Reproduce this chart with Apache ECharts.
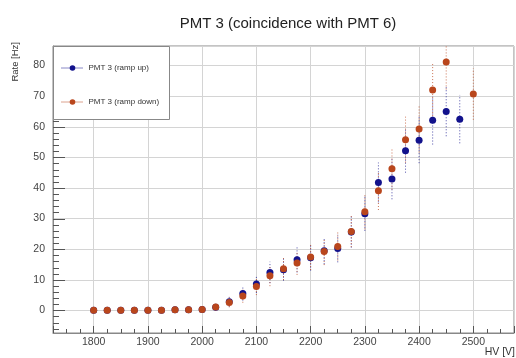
<!DOCTYPE html>
<html>
<head>
<meta charset="utf-8">
<script src="https://cdn.jsdelivr.net/npm/echarts@6/dist/echarts.min.js"></script>
<style>html,body{margin:0;padding:0;background:#fff}#c{width:516px;height:358px}</style>
</head>
<body>
<div id="c"></div>
<script>
const hv = [1800,1825,1850,1875,1900,1925,1950,1975,2000,2025,2050,2075,2100,2125,2150,2175,2200,2225,2250,2275,2300,2325,2350,2375,2400,2425,2450,2475,2500];
const rampUp = [0,0,0,0,0,0,0.2,0.2,0.3,1.0,2.8,5.5,8.6,12.4,13.3,16.5,17.2,19.5,20.2,25.6,31.6,41.8,42.9,52.2,55.6,62.1,65.0,62.5,null];
const rampUpErr = [0.2,0.2,0.2,0.2,0.2,0.2,0.4,0.4,0.5,1.0,1.6,2.3,2.9,3.5,3.6,4.1,4.2,4.4,4.5,5.1,5.6,6.5,6.6,7.2,7.5,7.9,8.1,7.9,null];
const rampDown = [0,0,0,0,0,0,0.2,0.2,0.3,1.1,2.6,4.7,7.8,11.3,13.6,15.5,17.4,19.2,20.9,25.8,32.2,39.1,46.3,55.8,59.3,72.0,81.2,null,70.7];
const rampDownErr = [0.2,0.2,0.2,0.2,0.2,0.2,0.4,0.4,0.5,1.0,1.6,2.2,2.8,3.4,3.7,3.9,4.2,4.4,4.6,5.1,5.7,6.3,6.8,7.5,7.7,8.5,9.0,null,8.4];
const yMajorTicks = [0,10,20,30,40,50,60,70,80];
const yMinorTicks = [-6,-4,-2,2,4,6,8,12,14,16,18,22,24,26,28,32,34,36,38,42,44,46,48,52,54,56,58,62,64,66,68,72,74,76,78,82,84,86];
const title = 'PMT 3 (coincidence with PMT 6)';
const nameUp = 'PMT 3 (ramp up)';
const nameDown = 'PMT 3 (ramp down)';
const yTitle = 'Rate [Hz]';
const xTitle = 'HV [V]';
const X_MIN = 1725, X_MAX = 2575, Y_MIN = -7.4, Y_MAX = 86.4;
const blue = '#12128c';
const orange = '#b9461c';

function pts(vals){ const o=[]; vals.forEach((v,i)=>{ if(v!==null) o.push([hv[i], v]); }); return o; }
function errPts(vals, errs){ const o=[]; vals.forEach((v,i)=>{ if(v!==null) o.push([hv[i], v, errs[i]]); }); return o; }
function errSeries(data, color){
  return {
    type:'custom', clip:true, silent:true, z:1,
    data:data,
    renderItem:function(params, api){
      const x=api.value(0), y=api.value(1), e=api.value(2);
      const a=api.coord([x,y-e]), b=api.coord([x,y+e]);
      return {type:'line', shape:{x1:a[0],y1:a[1],x2:b[0],y2:b[1]}, style:{stroke:color, lineWidth:1, lineDash:[1,2], opacity:0.75}};
    }
  };
}
function tickSeries(vals, len){
  return {
    type:'custom', clip:false, silent:true, z:2,
    data:vals.map(v=>[X_MIN, v]),
    renderItem:function(params, api){
      const p=api.coord([api.value(0), api.value(1)]);
      const y=Math.round(p[1])+0.5;
      return {type:'line', shape:{x1:p[0],y1:y,x2:p[0]+len,y2:y}, style:{stroke:'#555', lineWidth:1}};
    }
  };
}

const chart = echarts.init(document.getElementById('c'), null, {renderer:'canvas'});
const ff = 'Liberation Sans, Arial, sans-serif';
const axisFont = {fontFamily:ff, fontSize:10.5, color:'#444'};
chart.setOption({
  animation:false,
  backgroundColor:'#fff',
  title:{text:title, left:283, textAlign:'center', top:11, textStyle:{fontFamily:ff, fontSize:15, fontWeight:'normal', color:'#222'}},
  grid:{left:53, right:2, top:46, bottom:25, show:true, borderColor:'#888', borderWidth:1},
  xAxis:{type:'value', min:X_MIN, max:X_MAX, splitNumber:8,
    axisLine:{show:true, onZero:false, lineStyle:{color:'#888'}},
    axisTick:{show:true, inside:true, length:7, lineStyle:{color:'#555'}},
    minorTick:{show:true, splitNumber:4, length:4, lineStyle:{color:'#555'}},
    axisLabel:{...axisFont, margin:4, showMinLabel:false, showMaxLabel:false, formatter:function(v){return String(v);}},
    splitLine:{show:true, lineStyle:{color:'#d4d4d4', width:1}}
  },
  yAxis:{type:'value', min:Y_MIN, max:Y_MAX, splitNumber:9,
    axisLine:{show:true, onZero:false, lineStyle:{color:'#888'}},
    axisTick:{show:false},
    axisLabel:{...axisFont, margin:8, showMinLabel:false, showMaxLabel:false, formatter:function(v){return String(v);}},
    splitLine:{show:true, lineStyle:{color:'#d4d4d4', width:1}}
  },
  legend:{data:[nameUp, nameDown], orient:'vertical', left:56, top:59, itemGap:26, itemWidth:22, itemHeight:7, z:10,
    textStyle:{fontFamily:ff, fontSize:8, color:'#333'},
    lineStyle:{type:'dotted', opacity:1, width:1}},
  graphic:[
    {type:'rect', left:53, top:46, z:8, shape:{width:116, height:73}, style:{fill:'#fff', stroke:'#888', lineWidth:1}},
    {type:'text', left:10, top:42, rotation:Math.PI/2, z:10, style:{text:yTitle, fontFamily:ff, fontSize:9.5, fill:'#333'}},
    {type:'text', right:1, top:347, z:10, style:{text:xTitle, fontFamily:ff, fontSize:10.5, fill:'#333'}}
  ],
  series:[
    tickSeries(yMajorTicks, 12),
    tickSeries(yMinorTicks, 6),
    errSeries(errPts(rampUp, rampUpErr), blue),
    errSeries(errPts(rampDown, rampDownErr), orange),
    {name:nameUp, type:'line', data:pts(rampUp), symbol:'circle', symbolSize:7, showSymbol:true, z:3,
      itemStyle:{color:blue}, lineStyle:{color:blue, opacity:0, width:1}},
    {name:nameDown, type:'line', data:pts(rampDown), symbol:'circle', symbolSize:7, showSymbol:true, z:4,
      itemStyle:{color:orange}, lineStyle:{color:orange, opacity:0, width:1}}
  ]
});
</script>
</body>
</html>
